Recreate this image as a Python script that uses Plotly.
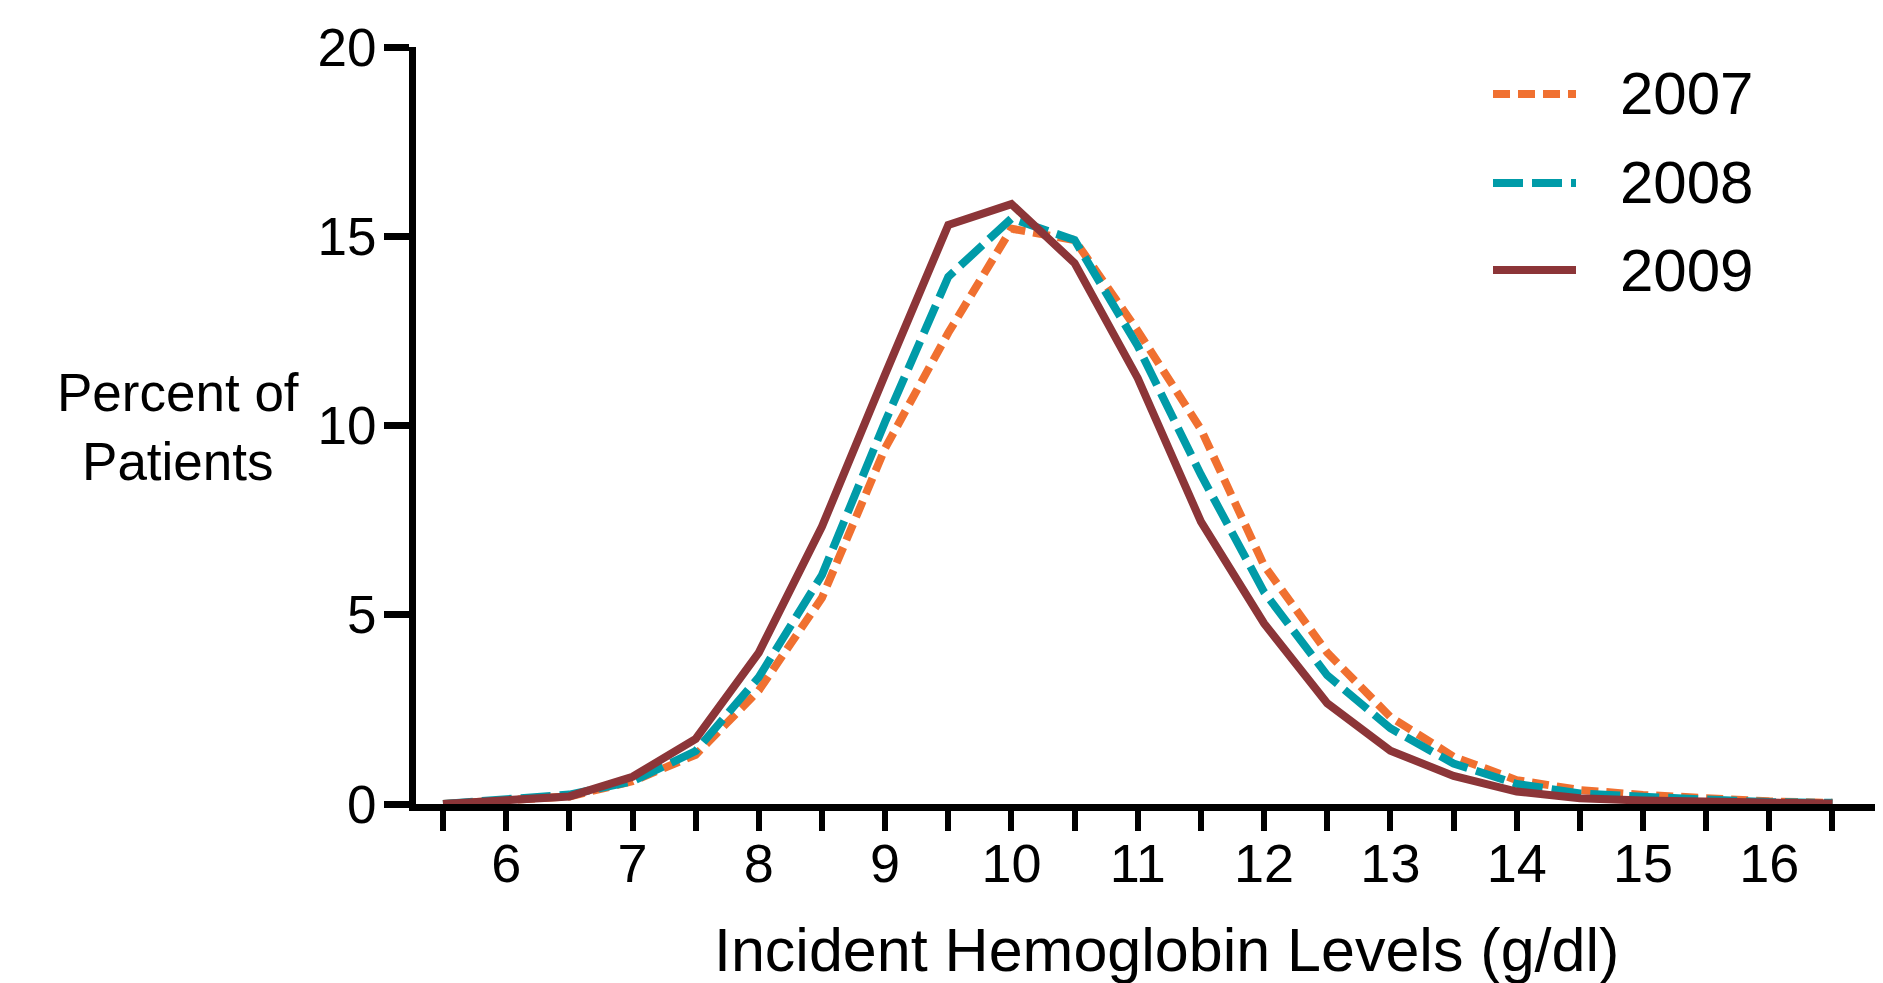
import plotly.graph_objects as go

# ---- data ----
hb_levels = [5.5, 6.0, 6.5, 7.0, 7.5, 8.0, 8.5, 9.0, 9.5, 10.0, 10.5, 11.0,
             11.5, 12.0, 12.5, 13.0, 13.5, 14.0, 14.5, 15.0, 15.5, 16.0, 16.5]

pct_2007 = [0.0, 0.1, 0.2, 0.6, 1.3, 3.0, 5.45, 9.4, 12.45, 15.2, 14.9, 12.5,
            9.9, 6.3, 4.0, 2.3, 1.25, 0.63, 0.37, 0.24, 0.14, 0.07, 0.03]
pct_2008 = [0.0, 0.1, 0.25, 0.6, 1.4, 3.35, 6.05, 10.1, 13.93, 15.47, 14.9, 12.1,
            8.7, 5.6, 3.4, 2.0, 1.07, 0.53, 0.28, 0.19, 0.1, 0.05, 0.03]
pct_2009 = [0.0, 0.1, 0.2, 0.72, 1.72, 4.0, 7.33, 11.35, 15.3, 15.85, 14.29, 11.25,
            7.46, 4.77, 2.66, 1.41, 0.74, 0.33, 0.15, 0.09, 0.05, 0.03, 0.01]

series_names = ["2007", "2008", "2009"]
series_colors = ["#F07030", "#009BA8", "#8C3538"]
series_dash = ["17px,8px", "30px,9px", "solid"]

x_tick_vals = [5.5 + 0.5 * i for i in range(23)]
x_tick_text = [str(int(v)) if v == int(v) else "" for v in x_tick_vals]
y_tick_vals = [0, 5, 10, 15, 20]

FONT = "Liberation Sans, Arial, Helvetica, sans-serif"

# page has an 8px body margin; size the figure so it fits the 1883x983 window
OFF = 8
W, H = 1883 - OFF, 983 - OFF
# plot area in page pixels
PL, PT, PB, PR = 416, 47, 804, 1883
L, T = PL - OFF, PT - OFF
R = (OFF + W) - PR
B = (OFF + H) - PB
plot_w = PR - PL
plot_h = PB - PT


def px(xp):
    return (xp - PL) / plot_w


def py(yp):
    return (PB - yp) / plot_h


fig = go.Figure()
for name, vals, col, dash in zip(series_names, [pct_2007, pct_2008, pct_2009],
                                 series_colors, series_dash):
    fig.add_trace(go.Scatter(
        x=hb_levels, y=vals, mode="lines", name=name,
        line=dict(color=col, width=8, dash=dash),
        showlegend=False, cliponaxis=False,
    ))

# custom legend (long line samples, as in the reference)
legend_rows_px = [94, 183, 270]
for name, col, dash, ypx in zip(series_names, series_colors, series_dash, legend_rows_px):
    fig.add_shape(type="line", xref="paper", yref="paper",
                  x0=px(1493), x1=px(1576), y0=py(ypx), y1=py(ypx),
                  line=dict(color=col, width=8, dash=dash))
    fig.add_annotation(text=name, xref="paper", yref="paper",
                       x=px(1618), y=py(ypx), xanchor="left", yanchor="middle",
                       showarrow=False, font=dict(family=FONT, size=60, color="black"))

# axis titles
fig.add_annotation(text="Percent of<br>Patients", xref="paper", yref="paper",
                   x=px(178), y=py(427),
                   xanchor="center", yanchor="middle", showarrow=False,
                   font=dict(family=FONT, size=53, color="black"))
fig.add_annotation(text="Incident Hemoglobin Levels (g/dl)", xref="paper", yref="paper",
                   x=px(1166), y=py(950),
                   xanchor="center", yanchor="middle", showarrow=False,
                   font=dict(family=FONT, size=61, color="black"))

fig.update_layout(
    width=W, height=H,
    margin=dict(l=L, r=R, t=T, b=B, pad=0),
    paper_bgcolor="white", plot_bgcolor="white",
    font=dict(family=FONT, color="black"),
    xaxis=dict(
        range=[5.286, 16.90], tickmode="array", tickvals=x_tick_vals, ticktext=x_tick_text,
        showgrid=False, zeroline=False, showline=True, linecolor="black", linewidth=7,
        ticks="outside", ticklen=20, tickwidth=6, tickcolor="black",
        tickfont=dict(family=FONT, size=54, color="black"),
        ticklabelstandoff=-14,
    ),
    yaxis=dict(
        range=[0, 20], tickmode="array", tickvals=y_tick_vals,
        showgrid=False, zeroline=False, showline=True, linecolor="black", linewidth=7,
        ticks="outside", ticklen=25, tickwidth=7, tickcolor="black",
        tickfont=dict(family=FONT, size=53, color="black"),
        ticklabelstandoff=-3,
    ),
)

fig.write_html("out.html")
